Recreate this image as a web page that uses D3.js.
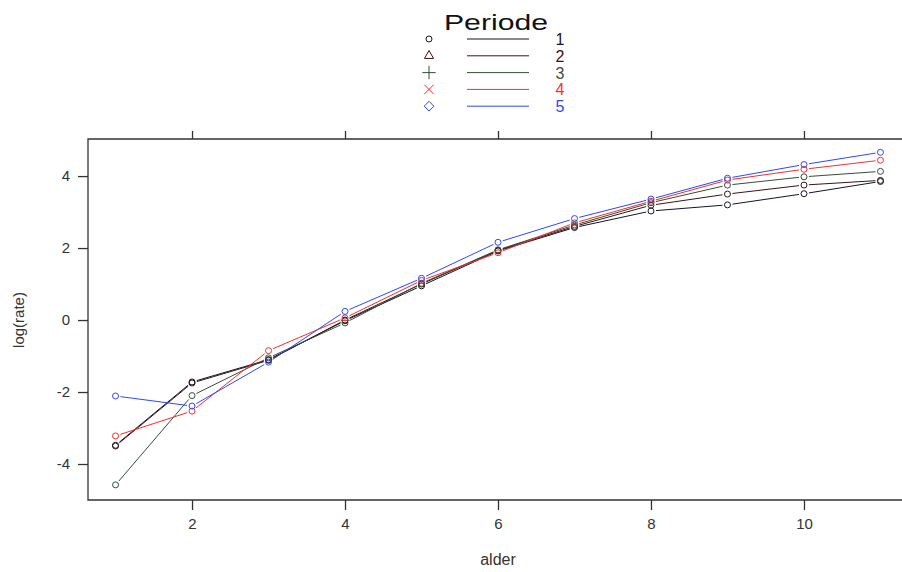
<!DOCTYPE html>
<html>
<head>
<meta charset="utf-8">
<script src="https://cdn.jsdelivr.net/npm/d3@7"></script>
<style>
  body { margin: 0; background: #fff; }
  text { font-family: Arial, "Liberation Sans", sans-serif; }
</style>
</head>
<body>
<svg width="902" height="572"></svg>
<script>
const ages = [1, 2, 3, 4, 5, 6, 7, 8, 9, 10, 11];
const periods = ['1', '2', '3', '4', '5'];
const period1 = [-3.48, -1.72, -1.10, -0.02, 0.95, 1.92, 2.57, 3.03, 3.20, 3.51, 3.85];
const period2 = [-3.50, -1.75, -1.12, 0.00, 1.00, 1.94, 2.60, 3.19, 3.50, 3.75, 3.88];
const period3 = [-4.58, -2.10, -1.05, -0.08, 1.02, 1.95, 2.64, 3.26, 3.75, 3.98, 4.13];
const period4 = [-3.22, -2.53, -0.85, 0.06, 1.10, 1.87, 2.70, 3.30, 3.89, 4.19, 4.44];
const period5 = [-2.11, -2.39, -1.17, 0.24, 1.16, 2.16, 2.82, 3.36, 3.94, 4.32, 4.66];
const xTicks = [2, 4, 6, 8, 10];
const yTicks = [-4, -2, 0, 2, 4];

const colors = ['#14142a', '#3a1414', '#34503a', '#ff2a2a', '#2a48ff'];
const symbols = [d3.symbolCircle, d3.symbolTriangle2, d3.symbolPlus, d3.symbolTimes, d3.symbolDiamond2];
const series = [period1, period2, period3, period4, period5];

const svg = d3.select('svg');

const x = d3.scaleLinear().domain([0.64, 11.36]).range([88, 908]);
const y = d3.scaleLinear().domain([-5, 5.03]).range([500, 139]);

// frame (left, top, bottom; right side runs off the picture)
svg.append('path')
    .attr('d', `M${x.range()[1]},${y.range()[1]} H88 V500 H${x.range()[1]}`)
    .attr('fill', 'none')
    .attr('stroke', '#333')
    .attr('stroke-width', 1.3);

const leftAxis = svg.append('g')
    .attr('transform', 'translate(88,0)')
    .call(d3.axisLeft(y).tickValues(yTicks).tickSize(10).tickPadding(8).tickFormat(d => String(d)));
const bottomAxis = svg.append('g')
    .attr('transform', 'translate(0,500)')
    .call(d3.axisBottom(x).tickValues(xTicks).tickSize(10).tickPadding(8).tickFormat(d => String(d)));
const topAxis = svg.append('g')
    .attr('transform', 'translate(0,139)')
    .call(d3.axisTop(x).tickValues(xTicks).tickSize(8).tickFormat(''));

[leftAxis, bottomAxis, topAxis].forEach(g => {
  g.select('.domain').remove();
  g.selectAll('.tick line').attr('stroke', '#333').attr('stroke-width', 1.3);
  g.selectAll('.tick text')
      .attr('fill', '#333')
      .style('font-size', '15px')
      .style('font-family', 'Arial, "Liberation Sans", sans-serif');
});

svg.append('text')
    .attr('x', x(6))
    .attr('y', 565)
    .attr('text-anchor', 'middle')
    .attr('fill', '#333')
    .style('font-size', '16px')
    .text('alder');

svg.append('text')
    .attr('transform', 'translate(24,320) rotate(-90)')
    .attr('text-anchor', 'middle')
    .attr('fill', '#333')
    .style('font-size', '15px')
    .text('log(rate)');

// lines drawn with gaps around the points
const gap = 5;
series.forEach((vals, i) => {
  const pts = ages.map((a, j) => [x(a), y(vals[j])]);
  const segs = d3.pairs(pts).map(([p, q]) => {
    const dx = q[0] - p[0], dy = q[1] - p[1];
    const len = Math.hypot(dx, dy);
    const ux = dx / len, uy = dy / len;
    return [[p[0] + ux * gap, p[1] + uy * gap], [q[0] - ux * gap, q[1] - uy * gap]];
  });
  svg.append('g').selectAll('line')
    .data(segs)
    .join('line')
      .attr('x1', d => d[0][0]).attr('y1', d => d[0][1])
      .attr('x2', d => d[1][0]).attr('y2', d => d[1][1])
      .attr('stroke', colors[i])
      .attr('stroke-width', 1);
  svg.append('g').selectAll('circle')
    .data(pts)
    .join('circle')
      .attr('cx', d => d[0])
      .attr('cy', d => d[1])
      .attr('r', 3)
      .attr('fill', 'none')
      .attr('stroke', colors[i])
      .attr('stroke-width', 1);
});

// legend
svg.append('text')
    .attr('x', 496)
    .attr('y', 30)
    .attr('text-anchor', 'middle')
    .attr('fill', '#111')
    .attr('textLength', 104)
    .attr('lengthAdjust', 'spacingAndGlyphs')
    .style('font-size', '22px')
    .text('Periode');

const leg = svg.append('g').selectAll('g')
  .data(periods)
  .join('g')
    .attr('transform', (d, i) => `translate(0,${39 + i * 16.8})`);

leg.append('path')
    .attr('transform', 'translate(429,0)')
    .attr('d', (d, i) => d3.symbol(symbols[i], i === 0 ? 28 : 60)())
    .attr('fill', 'none')
    .attr('stroke', (d, i) => colors[i])
    .attr('stroke-width', 1);

leg.append('line')
    .attr('x1', 467).attr('x2', 529)
    .attr('stroke', (d, i) => colors[i])
    .attr('stroke-width', 1);

leg.append('text')
    .attr('x', 560)
    .attr('y', 6)
    .attr('text-anchor', 'middle')
    .attr('fill', (d, i) => colors[i])
    .style('font-size', '16px')
    .text(d => d);
</script>
</body>
</html>
